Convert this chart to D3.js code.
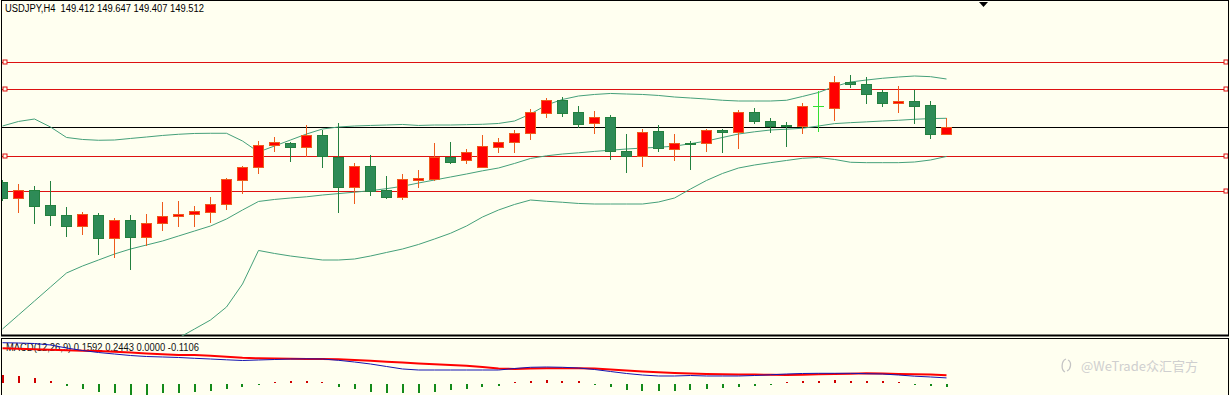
<!DOCTYPE html>
<html><head><meta charset="utf-8">
<script src="https://cdn.jsdelivr.net/npm/d3@7"></script>
<style>html,body{margin:0;padding:0;background:#fffff0;overflow:hidden;} svg{display:block;} text{white-space:pre;}</style>
</head><body>
<svg id="c" width="1230" height="395"></svg>
<script>
// ---------- data ----------
const symbolTitle = "USDJPY,H4";
const ohlcLabel = ["149.412", "149.647", "149.407", "149.512"];
const macdLabel = "MACD(12,26,9) 0.1592 0.2443 0.0000 -0.1106";
const watermark = "@WeTrade众汇官方";

const opens = [148.687,148.447,148.567,148.342,148.192,148.027,148.192,147.847,148.117,147.862,
  148.072,148.170,148.207,148.237,148.357,148.717,148.912,149.242,149.272,149.212,
  149.392,149.062,148.612,148.927,148.567,148.462,148.722,148.732,149.062,149.017,
  148.912,149.212,149.287,149.422,149.722,149.917,149.737,149.572,149.662,149.152,
  149.077,149.452,149.182,149.272,149.272,149.467,149.437,149.737,149.602,149.542,
  149.527,149.820,149.797,150.187,150.157,150.037,149.877,149.902,149.842,149.412];
const highs = [148.717,148.657,148.627,148.702,148.312,148.237,148.222,148.147,148.192,148.207,
  148.387,148.402,148.327,148.462,148.747,148.927,149.302,149.362,149.287,149.542,
  149.467,149.572,148.972,149.092,148.777,148.807,148.867,149.272,149.287,149.182,
  149.392,149.347,149.467,149.782,149.947,149.962,149.827,149.752,149.692,149.407,
  149.482,149.542,149.407,149.302,149.482,149.482,149.767,149.797,149.647,149.587,
  149.872,150.052,150.277,150.292,150.262,150.067,150.127,150.067,149.902,149.647];
const lows = [148.417,148.237,148.072,148.042,147.877,147.907,147.607,147.562,147.382,147.742,
  147.967,148.027,148.027,148.087,148.282,148.522,148.822,149.152,149.002,149.077,
  148.912,148.237,148.372,148.492,148.447,148.432,148.612,148.717,148.972,148.972,
  148.905,149.137,149.137,149.332,149.662,149.677,149.512,149.422,149.032,148.837,
  148.927,149.152,149.017,148.882,149.152,149.137,149.197,149.572,149.437,149.227,
  149.422,149.452,149.617,150.112,149.872,149.827,149.737,149.572,149.347,149.407];
const closes = [148.447,148.567,148.327,148.192,148.027,148.207,147.847,148.117,147.862,148.072,
  148.177,148.200,148.252,148.357,148.732,148.912,149.242,149.287,149.212,149.392,
  149.077,148.612,148.927,148.552,148.462,148.732,148.747,149.062,148.987,149.137,
  149.227,149.287,149.422,149.737,149.917,149.722,149.557,149.662,149.152,149.077,
  149.437,149.197,149.272,149.257,149.467,149.442,149.737,149.602,149.527,149.527,
  149.827,149.820,150.187,150.157,150.007,149.872,149.902,149.827,149.407,149.512];

const bbUpper = [149.527,149.595,149.632,149.512,149.355,149.325,149.313,149.317,149.340,149.362,
  149.385,149.403,149.415,149.418,149.418,149.302,149.137,149.227,149.317,149.407,
  149.482,149.512,149.527,149.535,149.542,149.550,149.535,149.542,149.542,149.547,
  149.553,149.565,149.602,149.707,149.842,149.925,149.977,150.000,150.015,150.007,
  150.000,149.985,149.962,149.947,149.932,149.913,149.902,149.902,149.902,149.913,
  149.970,150.030,150.120,150.187,150.217,150.243,150.262,150.277,150.267,150.232];
const bbMiddle = [146.482,146.692,146.902,147.112,147.322,147.427,147.517,147.607,147.682,147.742,
  147.802,147.877,147.952,148.027,148.132,148.267,148.395,148.425,148.447,148.465,
  148.492,148.513,148.534,148.557,148.587,148.623,148.672,148.717,148.762,148.807,
  148.855,148.897,148.965,149.040,149.080,149.107,149.125,149.146,149.164,149.182,
  149.196,149.208,149.224,149.262,149.302,149.355,149.407,149.440,149.467,149.479,
  149.493,149.527,149.563,149.577,149.589,149.602,149.613,149.628,149.638,149.643];
const bbLower = [null,null,null,null,null,null,null,null,null,null,
  146.197,146.347,146.482,146.617,146.812,147.157,147.660,147.615,147.577,147.547,
  147.517,147.517,147.532,147.577,147.630,147.682,147.750,147.832,147.918,148.027,
  148.162,148.267,148.350,148.417,148.398,148.383,148.365,148.357,148.357,148.357,
  148.357,148.387,148.447,148.582,148.710,148.815,148.897,148.942,148.977,149.010,
  149.043,149.055,149.025,148.983,148.977,148.977,148.977,148.987,149.017,149.070];

const redLevels = [150.487, 150.082, 149.077, 148.552];
const blackLevel = 149.512;

const macdMain = [1.259,1.250,1.234,1.188,1.094,1.016,0.953,0.906,0.859,0.828,
  0.813,0.797,0.772,0.750,0.725,0.703,0.719,0.734,0.750,0.756,
  0.750,0.709,0.656,0.594,0.516,0.438,0.406,0.406,0.406,0.406,
  0.406,0.406,0.453,0.491,0.500,0.491,0.469,0.422,0.359,0.297,
  0.250,0.219,0.219,0.234,0.219,0.219,0.219,0.234,0.256,0.281,
  0.297,0.303,0.303,0.303,0.291,0.281,0.250,0.213,0.188,0.1592];
const macdSignal = [1.084,1.069,1.053,1.038,1.022,1.009,1.000,0.975,0.953,0.922,
  0.897,0.875,0.875,0.850,0.819,0.788,0.772,0.766,0.756,0.750,
  0.750,0.744,0.719,0.694,0.666,0.638,0.613,0.588,0.563,0.541,
  0.500,0.453,0.438,0.453,0.459,0.459,0.459,0.453,0.422,0.391,
  0.359,0.334,0.313,0.297,0.281,0.272,0.266,0.266,0.256,0.250,
  0.256,0.272,0.281,0.291,0.303,0.297,0.281,0.272,0.266,0.2443];
const macdHist = [0.250,0.228,0.147,0.072,-0.094,-0.197,-0.272,-0.313,-0.375,-0.375,
  -0.313,-0.303,-0.272,-0.250,-0.197,-0.116,-0.022,0.031,0.053,0.053,
  0.022,-0.116,-0.197,-0.272,-0.322,-0.322,-0.322,-0.272,-0.219,-0.197,
  -0.134,-0.109,0.022,0.078,0.094,0.078,0.047,-0.031,-0.125,-0.219,
  -0.250,-0.250,-0.250,-0.219,-0.188,-0.156,-0.125,-0.094,-0.031,0.031,
  0.047,0.078,0.109,0.078,0.063,0.047,0.031,-0.031,-0.109,-0.1106];

// ---------- layout ----------
const W = 1230, H = 395;
const main = {left: 1, right: 1228, top: 0, bottom: 336};
const sub = {top: 338, bottom: 395};
const n = opens.length;
const idx = d3.range(n);

const svg = d3.select("#c");
svg.append("rect").attr("width", W).attr("height", H).attr("fill", "#fffff0");

const defs = svg.append("defs");
defs.append("clipPath").attr("id", "mainClip").append("rect")
  .attr("x", main.left + 1).attr("y", main.top + 1)
  .attr("width", main.right - main.left - 1).attr("height", main.bottom - main.top - 1);
defs.append("clipPath").attr("id", "subClip").append("rect")
  .attr("x", main.left + 1).attr("y", sub.top + 1)
  .attr("width", main.right - main.left - 1).attr("height", sub.bottom - sub.top);

const x = d3.scaleLinear().domain([0, n - 1]).range([2.5, 946.5]);
const y = d3.scaleLinear().domain([146.377, 151.417]).range([main.bottom, main.top]);
const ym = d3.scaleLinear().domain([0, 1]).range([383, 351]);
const snap = v => Math.round(v) + 0.5;

// main pane frame
svg.append("rect").attr("x", main.left + 0.5).attr("y", main.top + 0.5)
  .attr("width", main.right - main.left).attr("height", main.bottom - main.top - 1)
  .attr("fill", "none").attr("stroke", "#000").attr("stroke-width", 1);
svg.append("line").attr("x1", main.left).attr("x2", main.right + 1)
  .attr("y1", main.bottom - 0.5).attr("y2", main.bottom - 0.5)
  .attr("stroke", "#000").attr("stroke-width", 2);

const gMain = svg.append("g").attr("clip-path", "url(#mainClip)");

// horizontal level lines
gMain.selectAll("line.red").data(redLevels).join("line").attr("class", "red")
  .attr("x1", main.left).attr("x2", main.right)
  .attr("y1", d => snap(y(d))).attr("y2", d => snap(y(d)))
  .attr("stroke", "#dd1111").attr("stroke-width", 1);
gMain.append("line").attr("x1", main.left).attr("x2", main.right)
  .attr("y1", snap(y(blackLevel))).attr("y2", snap(y(blackLevel)))
  .attr("stroke", "#000").attr("stroke-width", 1);
// end markers
const markerX = [5, 1226];
redLevels.forEach(lv => {
  markerX.forEach(mx => {
    gMain.append("rect").attr("x", mx - 2).attr("y", Math.round(y(lv)) - 2)
      .attr("width", 4).attr("height", 4)
      .attr("fill", "#fffff0").attr("stroke", "#dd1111").attr("stroke-width", 1);
  });
});

// Bollinger bands
const bandColor = "#45a07a";
const bandLine = arr => d3.line().defined(i => arr[i] !== null)
  .x(i => x(i)).y(i => y(arr[i]))(idx);
[bbUpper, bbMiddle, bbLower].forEach(arr => {
  gMain.append("path").attr("d", bandLine(arr)).attr("fill", "none")
    .attr("stroke", bandColor).attr("stroke-width", 1);
});

// candles
const bullFill = "#ff0000", bullStroke = "#ee5a1c";
const bearFill = "#2e8b57", bearStroke = "#23803f";
const dojiStroke = "#33e033";
idx.forEach(i => {
  const o = opens[i], c = closes[i], h = highs[i], l = lows[i];
  const cx = x(i);
  const kind = c > o ? "bull" : (c < o ? "bear" : "doji");
  const stroke = kind === "bull" ? bullStroke : kind === "bear" ? bearStroke : dojiStroke;
  const fill = kind === "bull" ? bullFill : bearFill;
  gMain.append("line").attr("x1", cx).attr("x2", cx)
    .attr("y1", Math.round(y(h))).attr("y2", Math.round(y(l)) + 1)
    .attr("stroke", stroke).attr("stroke-width", 1);
  const top = Math.round(y(Math.max(o, c)));
  const bot = Math.round(y(Math.min(o, c)));
  if (kind === "doji" || bot - top < 1) {
    gMain.append("line").attr("x1", cx - 5.5).attr("x2", cx + 5.5)
      .attr("y1", top + 0.5).attr("y2", top + 0.5)
      .attr("stroke", kind === "doji" ? dojiStroke : stroke).attr("stroke-width", 1);
  } else {
    gMain.append("rect").attr("x", cx - 5).attr("y", top + 0.5)
      .attr("width", 10).attr("height", bot - top)
      .attr("fill", fill).attr("stroke", stroke).attr("stroke-width", 1);
  }
});

// title text
svg.append("text").attr("x", 5).attr("y", 12)
  .attr("font-family", "Liberation Sans, Arial, sans-serif").attr("font-size", 10)
  .attr("textLength", 199).attr("lengthAdjust", "spacingAndGlyphs")
  .attr("fill", "#000").text(symbolTitle + "  " + ohlcLabel.join(" "));

// shift marker triangle
svg.append("path").attr("d", d3.line()([[979, 2], [988, 2], [983.5, 7]]) + "Z").attr("fill", "#000");

// ---------- MACD pane ----------
svg.append("rect").attr("x", main.left + 0.5).attr("y", sub.top + 0.5)
  .attr("width", main.right - main.left).attr("height", sub.bottom - sub.top + 10)
  .attr("fill", "none").attr("stroke", "#000").attr("stroke-width", 1);

const gSub = svg.append("g").attr("clip-path", "url(#subClip)");
gSub.append("text").attr("x", 6).attr("y", 350.5)
  .attr("font-family", "Liberation Sans, Arial, sans-serif").attr("font-size", 10)
  .attr("textLength", 193).attr("lengthAdjust", "spacingAndGlyphs")
  .attr("fill", "#111").text(macdLabel);

gSub.selectAll("rect.hist").data(idx).join("rect").attr("class", "hist")
  .attr("x", i => Math.round(x(i)) - 1).attr("width", 2)
  .attr("y", i => macdHist[i] >= 0 ? Math.round(ym(macdHist[i])) : 384)
  .attr("height", i => macdHist[i] >= 0 ? Math.max(1, 383 - Math.round(ym(macdHist[i]))) : Math.max(1, Math.round(ym(macdHist[i])) - 384))
  .attr("fill", i => macdHist[i] >= 0 ? "#d00000" : "#138a1a");

const mline = arr => d3.line().x(i => x(i)).y(i => ym(arr[i]))(idx);
gSub.append("path").attr("d", mline(macdSignal)).attr("fill", "none")
  .attr("stroke", "#ff0000").attr("stroke-width", 2);
gSub.append("path").attr("d", mline(macdMain)).attr("fill", "none")
  .attr("stroke", "#1515b0").attr("stroke-width", 1);

// watermark
const wm = svg.append("g").attr("fill", "none").attr("stroke", "#c4c4c4").attr("stroke-width", 1.3);
wm.append("path").attr("d", "M1066,359 C1061,361 1061,370 1065,372 M1068,360 C1072,362 1071,369 1067,371");
svg.append("text").attr("x", 1081).attr("y", 371)
  .attr("font-family", "Noto Sans CJK SC, Noto Sans, sans-serif").attr("font-size", 13)
  .attr("fill", "#cfcfcf").text(watermark);
</script>
</body></html>
